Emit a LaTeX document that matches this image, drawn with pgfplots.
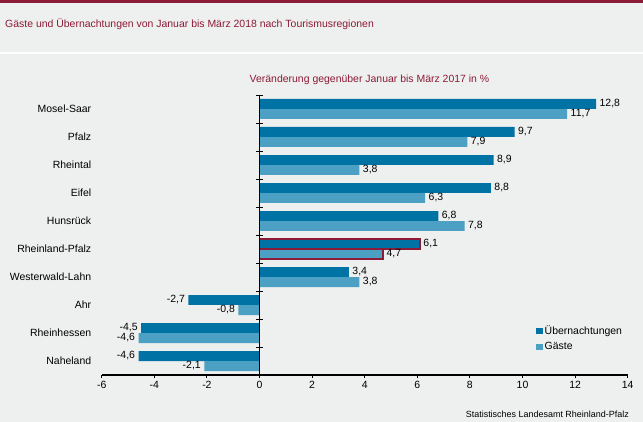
\documentclass[border=0pt]{standalone}
\usepackage{fontspec}
\setmainfont{Liberation Sans}
\usepackage{pgfplots}
\pgfplotsset{compat=1.18}
\definecolor{bgcol}{RGB}{238,239,239}
\definecolor{rlpred}{RGB}{140,27,55}
\definecolor{uebern}{RGB}{0,114,163}
\definecolor{gaeste}{RGB}{75,160,196}

\begin{document}
\begin{tikzpicture}
% background, top band, separator
\fill[bgcol] (0bp,0bp) rectangle (643bp,422bp);
\fill[rlpred] (0bp,419bp) rectangle (643bp,422bp);
\fill[white] (0bp,368bp) rectangle (643bp,370bp);
\node[anchor=west, text=rlpred, font=\fontsize{10.5}{12}\selectfont, inner sep=0pt]
  at (5bp,398bp) {Gäste und Übernachtungen von Januar bis März 2018 nach Tourismusregionen};
\node[text=rlpred, font=\fontsize{10.5}{12}\selectfont, inner sep=0pt]
  at (369.5bp,342bp) {Veränderung gegenüber Januar bis März 2017 in \%};
\node[anchor=east, font=\fontsize{9}{10}\selectfont, inner sep=0pt]
  at (629bp,8bp) {Statistisches Landesamt Rheinland-Pfalz};

\begin{axis}[
  at={(101.7bp,47bp)}, anchor=south west,
  scale only axis, width=526bp, height=280bp,
  xmin=-6, xmax=14, ymin=-0.5, ymax=9.5, y dir=reverse,
  xbar, bar width=0.357,
  axis lines*=left,
  y axis line style={draw=none},
  x axis line style={line width=1.5bp},
  xtick={-6,-4,...,14},
  ytick={0,...,9},
  yticklabels={Mosel-Saar,Pfalz,Rheintal,Eifel,Hunsrück,Rheinland-Pfalz,Westerwald-Lahn,Ahr,Rheinhessen,Naheland},
  y tick style={draw=none},
  y tick label style={xshift=-4bp},
  x tick style={black, line width=1bp},
  tick align=outside,
  major tick length=3bp,
  tick label style={font=\fontsize{10.5}{12}\selectfont},
  /pgf/number format/assume math mode=true,
  legend style={at={(0.82,0.19)}, anchor=north west, draw=none, fill=none,
    font=\fontsize{10.5}{12}\selectfont, row sep=2bp},
  legend cell align=left,
  legend image code/.code={\fill[#1] (0bp,-3bp) rectangle (6.5bp,3bp);},
  every node near coord/.append style={font=\fontsize{10.5}{12}\selectfont, text=black},
]
\addplot[fill=uebern, draw=none, bar shift=-0.1786, point meta=x,
  nodes near coords={\pgfmathprintnumber[fixed,fixed zerofill,precision=1,use comma]{\pgfplotspointmeta}}]
  coordinates {(12.8,0) (9.7,1) (8.9,2) (8.8,3) (6.8,4) (6.1,5) (3.4,6) (-2.7,7) (-4.5,8) (-4.6,9)};
\addlegendentry{Übernachtungen}
\addplot[fill=gaeste, draw=none, bar shift=0.1786, point meta=x,
  nodes near coords={\pgfmathprintnumber[fixed,fixed zerofill,precision=1,use comma]{\pgfplotspointmeta}}]
  coordinates {(11.7,0) (7.9,1) (3.8,2) (6.3,3) (7.8,4) (4.7,5) (3.8,6) (-0.8,7) (-4.6,8) (-2.1,9)};
\addlegendentry{Gäste}
% Rheinland-Pfalz highlighted
\addplot[fill=uebern, draw=rlpred, line width=1.5bp, bar shift=-0.1786, forget plot]
  coordinates {(6.1,5)};
\addplot[fill=gaeste, draw=rlpred, line width=1.5bp, bar shift=0.1786, forget plot]
  coordinates {(4.7,5)};
% y axis at x=0 with category ticks
\draw[black, line width=0.8bp] (axis cs:0,-0.5) -- (axis cs:0,9.5);
\pgfplotsinvokeforeach{-0.5,0.5,1.5,2.5,3.5,4.5,5.5,6.5,7.5,8.5}{
  \draw[black, line width=0.8bp] ([xshift=-3.5bp]axis cs:0,#1) -- ([xshift=3.5bp]axis cs:0,#1);
}
\end{axis}
\pgfresetboundingbox
\path (0bp,0bp) rectangle (643bp,422bp);
\end{tikzpicture}
\end{document}
